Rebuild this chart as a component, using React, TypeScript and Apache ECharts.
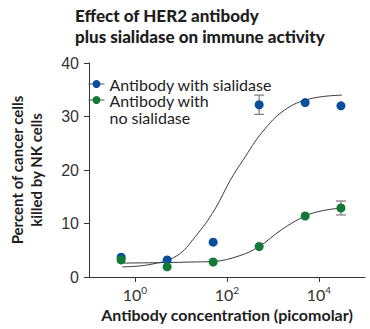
import React, { useEffect, useRef } from 'react';
import * as echarts from 'echarts';

// Antibody concentration (picomolar)
const concentrations = [0.5, 5, 50, 500, 5000, 30000];
// Percent of cancer cells killed by NK cells
const withSialidase = [3.7, 3.2, 6.5, 32.2, 32.6, 32.0];
const noSialidase = [3.2, 1.9, 2.8, 5.7, 11.4, 12.9];
// Error bar half-widths (0 = not visible)
const errWithSialidase = [0, 0, 0, 1.8, 0, 0];
const errNoSialidase = [0, 0, 0, 0, 0, 1.3];

// Fitted curves
const fitWithX = [0.53, 2, 7.9, 20.7, 54, 118, 225, 587, 1780, 6330, 31600];
const fitWithY = [1.9, 2.3, 3.9, 7.6, 12.6, 18.1, 21.9, 27.1, 31.2, 33.3, 34.0];
const fitNoX = [0.53, 5, 15.8, 50, 191, 500, 1510, 5000, 12000, 31600];
const fitNoY = [2.6, 2.7, 2.8, 2.9, 4.0, 5.7, 8.8, 11.4, 12.4, 12.9];

const xTickValues = [1, 100, 10000];
const yTickValues = [0, 10, 20, 30, 40];

const seriesNames = ['Antibody with sialidase', 'Antibody with\nno sialidase'];
const BLUE = '#0a4f9b';
const GREEN = '#127a36';

export default function App() {
  const ref = useRef<HTMLDivElement>(null);
  useEffect(() => {
    if (!ref.current) return;
    const chart = echarts.init(ref.current, null, { renderer: 'svg' });
    const errData = (vals: number[], errs: number[]) =>
      concentrations
        .map((c, i) => [c, vals[i] - errs[i], vals[i] + errs[i], errs[i]])
        .filter((d) => d[3] > 0);
    const errSeries = (vals: number[], errs: number[]) => ({
      type: 'custom',
      z: 3,
      silent: true,
      data: errData(vals, errs),
      encode: { x: 0, y: [1, 2] },
      renderItem: (params: any, api: any) => {
        const x = api.value(0);
        const top = api.coord([x, api.value(2)]);
        const bot = api.coord([x, api.value(1)]);
        const w = 5;
        const style = { stroke: '#7a7a7a', lineWidth: 1.2 };
        return {
          type: 'group',
          children: [
            { type: 'line', shape: { x1: top[0], y1: top[1], x2: bot[0], y2: bot[1] }, style },
            { type: 'line', shape: { x1: top[0] - w, y1: top[1], x2: top[0] + w, y2: top[1] }, style },
            { type: 'line', shape: { x1: bot[0] - w, y1: bot[1], x2: bot[0] + w, y2: bot[1] }, style },
          ],
        };
      },
    });
    const pointSeries = (name: string, vals: number[], color: string) => ({
      name,
      type: 'line',
      z: 5,
      data: concentrations.map((c, i) => [c, vals[i]]),
      symbol: 'circle',
      symbolSize: 9,
      showSymbol: true,
      lineStyle: { width: 0, opacity: 0 },
      itemStyle: { color, borderWidth: 0 },
      emphasis: { disabled: true },
    });
    const fitSeries = (xs: number[], ys: number[]) => ({
      type: 'line',
      z: 2,
      data: xs.map((x, i) => [x, ys[i]]),
      smooth: 0.4,
      showSymbol: false,
      symbol: 'none',
      silent: true,
      lineStyle: { color: '#3a3a3a', width: 1 },
    });
    const legendCommon = {
      orient: 'vertical',
      left: 88,
      padding: 0,
      itemWidth: 16,
      itemHeight: 10,
      itemGap: 2,
      selectedMode: false,
      lineStyle: { color: '#555', width: 1, opacity: 1 },
      textStyle: { fontFamily: 'Lato', fontSize: 16, color: '#222', lineHeight: 17 },
    };
    chart.setOption({
      animation: false,
      title: {
        text: 'Effect of HER2 antibody\nplus sialidase on immune activity',
        left: 70,
        top: 5,
        padding: [0, 5],
        textStyle: { fontFamily: 'Lato', fontWeight: 900, fontSize: 17, lineHeight: 21, color: '#1e1e1e' },
      },
      legend: [
        { ...legendCommon, top: 75.5, data: [seriesNames[0]] },
        {
          ...legendCommon,
          top: 74.5,
          data: [seriesNames[1]],
          // leading blank line keeps the first text line level with the icon
          formatter: (name: string) => '\n' + name,
        },
      ],
      grid: { left: 74, right: 5, top: 63, bottom: 52 },
      xAxis: {
        type: 'log',
        logBase: 10,
        min: 0.1,
        max: 100000,
        name: 'Antibody concentration (picomolar)',
        nameLocation: 'middle',
        nameGap: 25,
        nameTextStyle: { fontFamily: 'Lato', fontWeight: 'bold', fontSize: 16, color: '#1e1e1e' },
        axisLine: { lineStyle: { color: '#333', width: 1 } },
        axisTick: { show: true, customValues: xTickValues, length: 5, lineStyle: { color: '#333' } },
        minorTick: { show: false },
        splitLine: { show: false },
        axisLabel: {
          customValues: xTickValues,
          margin: 8,
          formatter: (v: number) => `{b|10}{s|${Math.round(Math.log10(v))}}`,
          rich: {
            b: { fontFamily: 'Lato', fontSize: 16, color: '#333' },
            s: { fontFamily: 'Lato', fontSize: 10, color: '#333', verticalAlign: 'top', padding: [0, 0, 8, 0] },
          },
        },
      },
      yAxis: {
        type: 'value',
        min: 0,
        max: 40,
        interval: 10,
        name: 'Percent of cancer cells\nkilled by NK cells',
        nameLocation: 'middle',
        nameGap: 44,
        nameTextStyle: { fontFamily: 'Lato', fontWeight: 'bold', fontSize: 15, lineHeight: 18.5, color: '#1e1e1e' },
        axisLine: { show: true, lineStyle: { color: '#333', width: 1 } },
        axisTick: { show: true, length: 5, lineStyle: { color: '#333' } },
        splitLine: { show: false },
        axisLabel: {
          margin: 10,
          fontFamily: 'Liberation Sans',
          fontSize: 16,
          color: '#333',
          formatter: (v: number) => (yTickValues.includes(v) ? String(v) : ''),
        },
      },
      series: [
        fitSeries(fitWithX, fitWithY),
        fitSeries(fitNoX, fitNoY),
        errSeries(withSialidase, errWithSialidase),
        errSeries(noSialidase, errNoSialidase),
        pointSeries(seriesNames[0], withSialidase, BLUE),
        pointSeries(seriesNames[1], noSialidase, GREEN),
      ],
    });
    return () => chart.dispose();
  }, []);
  return <div ref={ref} style={{ width: 370, height: 329, position: 'absolute', left: 0, top: 0 }} />;
}
